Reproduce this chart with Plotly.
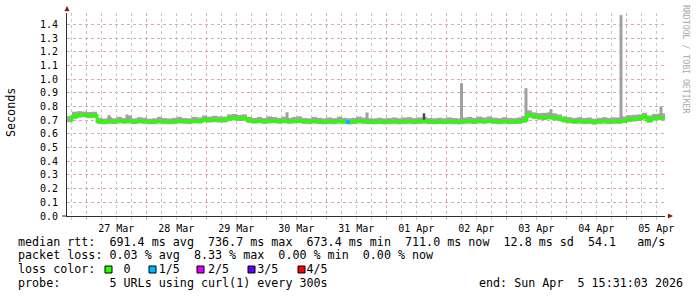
import plotly.graph_objects as go
import pandas as pd

# ---------------- data ----------------
END = pd.Timestamp("2026-04-05 15:31:03")
SPAN_HOURS = 239.2
STEP_HOURS = 2

median_rtt = [
    0.702, 0.728, 0.737, 0.738, 0.733, 0.735, 0.690, 0.686, 0.690, 0.688,
    0.694, 0.690, 0.693, 0.688, 0.692, 0.690, 0.687, 0.688, 0.691, 0.689,
    0.687, 0.689, 0.692, 0.690, 0.688, 0.693, 0.691, 0.704, 0.699, 0.702,
    0.699, 0.700, 0.713, 0.716, 0.711, 0.714, 0.697, 0.692, 0.694, 0.690,
    0.693, 0.695, 0.691, 0.694, 0.690, 0.693, 0.695, 0.690, 0.688, 0.692,
    0.689, 0.687, 0.690, 0.688, 0.692, 0.690, 0.686, 0.689, 0.693, 0.690,
    0.688, 0.687, 0.689, 0.686, 0.688, 0.690, 0.687, 0.689, 0.691, 0.688,
    0.690, 0.692, 0.688, 0.687, 0.689, 0.687, 0.690, 0.688, 0.686, 0.690,
    0.692, 0.689, 0.693, 0.690, 0.694, 0.690, 0.688, 0.691, 0.689, 0.688,
    0.690, 0.700, 0.738, 0.728, 0.722, 0.720, 0.724, 0.718, 0.712, 0.700,
    0.694, 0.690, 0.692, 0.689, 0.691, 0.684, 0.690, 0.692, 0.689, 0.691,
    0.690, 0.696, 0.705, 0.708, 0.712, 0.725, 0.700, 0.716, 0.718, 0.715,
]

smoke_low = [
    0.685, 0.707, 0.719, 0.721, 0.715, 0.717, 0.673, 0.671, 0.674, 0.672,
    0.677, 0.674, 0.676, 0.672, 0.676, 0.674, 0.671, 0.672, 0.675, 0.673,
    0.671, 0.673, 0.676, 0.674, 0.672, 0.677, 0.675, 0.685, 0.682, 0.685,
    0.682, 0.683, 0.695, 0.698, 0.694, 0.696, 0.680, 0.675, 0.677, 0.673,
    0.676, 0.678, 0.674, 0.677, 0.673, 0.676, 0.678, 0.673, 0.671, 0.675,
    0.672, 0.670, 0.673, 0.671, 0.675, 0.673, 0.669, 0.672, 0.676, 0.673,
    0.671, 0.670, 0.672, 0.669, 0.671, 0.673, 0.670, 0.672, 0.674, 0.671,
    0.673, 0.675, 0.671, 0.670, 0.672, 0.670, 0.673, 0.671, 0.669, 0.673,
    0.675, 0.672, 0.676, 0.673, 0.677, 0.673, 0.671, 0.674, 0.672, 0.671,
    0.673, 0.681, 0.717, 0.709, 0.703, 0.701, 0.705, 0.699, 0.693, 0.683,
    0.677, 0.673, 0.675, 0.672, 0.674, 0.667, 0.673, 0.675, 0.672, 0.674,
    0.673, 0.679, 0.687, 0.690, 0.694, 0.705, 0.681, 0.698, 0.700, 0.697,
]

smoke_high = [
    0.730, 0.762, 0.766, 0.763, 0.760, 0.762, 0.716, 0.712, 0.722, 0.714,
    0.724, 0.715, 0.734, 0.713, 0.722, 0.718, 0.711, 0.714, 0.724, 0.716,
    0.713, 0.717, 0.724, 0.716, 0.714, 0.724, 0.720, 0.734, 0.726, 0.732,
    0.728, 0.726, 0.742, 0.745, 0.739, 0.743, 0.723, 0.717, 0.724, 0.716,
    0.728, 0.723, 0.717, 0.726, 0.717, 0.724, 0.728, 0.716, 0.714, 0.724,
    0.717, 0.713, 0.720, 0.715, 0.726, 0.717, 0.714, 0.717, 0.726, 0.718,
    0.714, 0.713, 0.718, 0.713, 0.716, 0.720, 0.714, 0.719, 0.722, 0.715,
    0.720, 0.724, 0.716, 0.714, 0.718, 0.714, 0.720, 0.716, 0.713, 0.719,
    0.724, 0.717, 0.726, 0.720, 0.728, 0.719, 0.715, 0.722, 0.717, 0.715,
    0.720, 0.730, 0.772, 0.757, 0.752, 0.754, 0.757, 0.750, 0.742, 0.728,
    0.722, 0.717, 0.722, 0.716, 0.720, 0.711, 0.717, 0.722, 0.717, 0.721,
    0.720, 0.727, 0.737, 0.739, 0.742, 0.754, 0.734, 0.745, 0.747, 0.750,
]

# single-sample outliers in the smoke
spike_times = ["2026-03-27 09:10", "2026-03-27 16:20", "2026-03-30 08:20",
               "2026-03-31 16:20", "2026-04-02 06:07", "2026-04-03 07:55",
               "2026-04-03 17:55", "2026-04-04 21:55", "2026-04-05 13:55"]
spike_low = [0.690, 0.688, 0.690, 0.688, 0.690, 0.720, 0.712, 0.692, 0.712]
spike_high = [0.737, 0.742, 0.758, 0.756, 0.970, 0.934, 0.780, 1.467, 0.800]

dark_spike_times = ["2026-04-01 15:07"]
dark_spike_low = [0.690]
dark_spike_high = [0.750]

loss_times = ["2026-03-31 08:40"]
loss_rtt = [0.687]

y_ticks = [round(0.1 * k, 1) for k in range(15)]
loss_labels = ["0", "1/5", "2/5", "3/5", "4/5"]
loss_colors = ["#26ff00", "#00b8ff", "#dd00ff", "#5e00ff", "#ff0000"]

# ---------------- figure ----------------
START = END - pd.Timedelta(hours=SPAN_HOURS)
times = [START + pd.Timedelta(hours=STEP_HOURS * (i + 0.5)) for i in range(len(median_rtt))]
MS_H = 3600 * 1000

W, H = 697, 297
ML, MR, MT, MB = 67, 32, 13, 81
PW, PH = W - ML - MR, H - MT - MB


def px(x):
    return (x - ML) / PW


def py(y):
    return (H - MB - y) / PH


MONO = "DejaVu Sans Mono"
NB = "\u00a0"


def nb(s):
    return s.replace(" ", NB)


fig = go.Figure()
fig.add_trace(go.Bar(
    x=times, y=[h - l for h, l in zip(smoke_high, smoke_low)], base=smoke_low,
    width=STEP_HOURS * MS_H, marker=dict(color="#a4a4a4", line=dict(width=0)),
    hoverinfo="skip", showlegend=False))
fig.add_trace(go.Bar(
    x=pd.to_datetime(spike_times), y=[h - l for h, l in zip(spike_high, spike_low)],
    base=spike_low, width=1.2 * MS_H, marker=dict(color="#a0a0a0", line=dict(width=0)),
    showlegend=False))
fig.add_trace(go.Bar(
    x=pd.to_datetime(dark_spike_times), y=[h - l for h, l in zip(dark_spike_high, dark_spike_low)],
    base=dark_spike_low, width=1.0 * MS_H, marker=dict(color="#4a4a4a", line=dict(width=0)),
    showlegend=False))
fig.add_trace(go.Scatter(
    x=times, y=median_rtt, mode="lines",
    line=dict(color=loss_colors[0], width=3, shape="hvh"), showlegend=False))
fig.add_trace(go.Scatter(
    x=pd.to_datetime(loss_times), y=loss_rtt, mode="markers",
    marker=dict(symbol="square", size=4, color=loss_colors[1], line=dict(width=0)),
    showlegend=False))

major_grid = "#dcaaaa"
minor_grid = "#c8c8c8"

fig.update_layout(
    width=W, height=H, margin=dict(l=ML, r=MR, t=MT, b=MB),
    paper_bgcolor="white", plot_bgcolor="white", barmode="overlay",
    showlegend=False,
    font=dict(family=MONO, size=10, color="black"),
    xaxis=dict(
        type="date", range=[START, END],
        tick0="2026-03-27", dtick=86400000, tickformat="%d %b",
        ticklabelshift=30, ticks="outside", ticklen=3, tickcolor=major_grid,
        showgrid=True, gridcolor=major_grid, griddash="dot", gridwidth=1,
        showline=True, linecolor="#303030", linewidth=1, zeroline=False,
        tickfont=dict(family=MONO, size=10, color="black"),
        minor=dict(dtick=6 * MS_H, tick0="2026-03-27", showgrid=True,
                   gridcolor=minor_grid, griddash="dot", gridwidth=1,
                   ticks="outside", ticklen=3, tickcolor=minor_grid),
    ),
    yaxis=dict(
        range=[0, PH / 136.9], tickvals=y_ticks, tickformat=".1f",
        showgrid=True, gridcolor=major_grid, griddash="dot", gridwidth=1,
        showline=True, linecolor="#303030", linewidth=1, zeroline=False,
        ticks="", ticklabelstandoff=6,
        tickfont=dict(family=MONO, size=10, color="black"),
    ),
)

ann = []
# axis arrows
ann.append(dict(xref="paper", yref="paper", x=0, y=py(6), ax=0, ay=7, text="",
                showarrow=True, arrowhead=2, arrowsize=1, arrowwidth=1, arrowcolor="#8b1a1a"))
ann.append(dict(xref="paper", yref="paper", x=px(673), y=0, ax=-7, ay=0, text="",
                showarrow=True, arrowhead=2, arrowsize=1, arrowwidth=1, arrowcolor="#8b1a1a"))
# y title
ann.append(dict(xref="paper", yref="paper", x=px(11), y=py(113), text="Seconds",
                textangle=-90, showarrow=False, xanchor="center", yanchor="middle",
                font=dict(family=MONO, size=11.7, color="black")))
# watermark
ann.append(dict(xref="paper", yref="paper", x=px(686), y=py(59), text=nb("RRDTOOL / TOBI OETIKER"),
                textangle=90, showarrow=False, xanchor="center", yanchor="middle",
                font=dict(family=MONO, size=8.2, color="#a8a8a8")))

rows = [
    (241.5, "median rtt:  691.4 ms avg  736.7 ms max  673.4 ms min  711.0 ms now  12.8 ms sd  54.1   am/s"),
    (255.5, "packet loss: 0.03 % avg  8.33 % max  0.00 % min  0.00 % now"),
    (269.3, "loss color:    " + "    ".join(loss_labels)),
    (283.0, "probe:       5 URLs using curl(1) every 300s"),
]
for yy, t in rows:
    ann.append(dict(xref="paper", yref="paper", x=px(16), y=py(yy), text=nb(t),
                    showarrow=False, xanchor="left", yanchor="middle",
                    font=dict(family=MONO, size=11.7, color="black")))
ann.append(dict(xref="paper", yref="paper", x=px(477), y=py(283.0),
                text=nb("end: Sun Apr  5 15:31:03 2026"),
                showarrow=False, xanchor="left", yanchor="middle",
                font=dict(family=MONO, size=11.7, color="black")))
fig.update_layout(annotations=ann)

shapes = []
# x-axis line extends a little left of the y axis
shapes.append(dict(type="line", xref="paper", yref="paper", x0=px(62), x1=0, y0=0, y1=0,
                   line=dict(color="#303030", width=1)))
box_left = [105, 149, 197, 248, 298]
for bx, c in zip(box_left, loss_colors):
    shapes.append(dict(type="rect", xref="paper", yref="paper",
                       x0=px(bx), x1=px(bx + 7), y0=py(273), y1=py(266),
                       fillcolor=c, line=dict(color="black", width=1)))
fig.update_layout(shapes=shapes)

fig.write_html("out.html")
